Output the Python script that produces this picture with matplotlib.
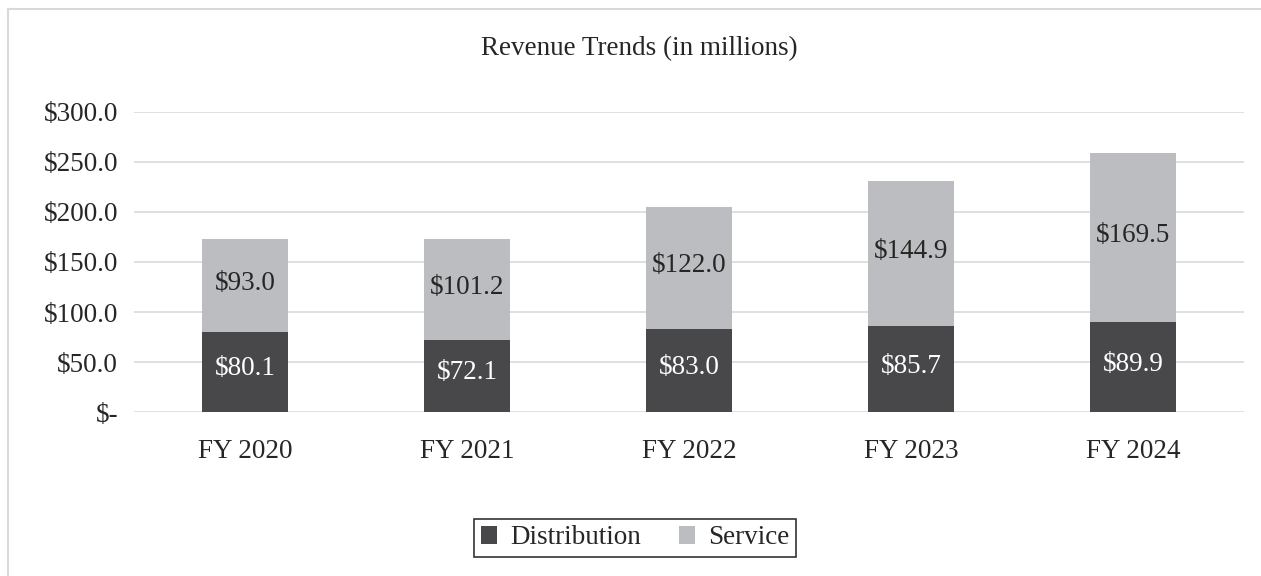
import matplotlib.pyplot as plt
from matplotlib.lines import Line2D
import numpy as np

plt.rcParams['font.family'] = ['Liberation Serif', 'DejaVu Serif']

# data (in millions)
years = ['FY 2020', 'FY 2021', 'FY 2022', 'FY 2023', 'FY 2024']
distribution = [80.1, 72.1, 83.0, 85.7, 89.9]
service = [93.0, 101.2, 122.0, 144.9, 169.5]
yticks = [0, 50, 100, 150, 200, 250, 300]

dark = '#48484a'
light = '#bcbdc1'
txt = '#262626'
fs = 19.5

fig = plt.figure(figsize=(12.61, 5.76), dpi=100)
ax = fig.add_axes([0.1063, 0.2847, 0.8802, 0.5209])

x = np.arange(len(years))
w = 0.39
b1 = ax.bar(x, distribution, w, color=dark, label='Distribution', zorder=2)
b2 = ax.bar(x, service, w, bottom=distribution, color=light, label='Service', zorder=2)

# value labels inside the segments
for i in range(len(years)):
    ax.text(x[i], distribution[i] / 2 + 3, '$%.1f' % distribution[i], ha='center', va='center',
            color='white', fontsize=fs)
    ax.text(x[i], distribution[i] + service[i] / 2 + 2, '$%.1f' % service[i], ha='center',
            va='center', color=txt, fontsize=fs)

ax.set_xlim(-0.5, len(years) - 0.5)
ax.set_ylim(0, 300)
ax.set_yticks(yticks)
ax.set_yticklabels(['$-' if v == 0 else '$%.1f' % v for v in yticks])
ax.set_xticks(x)
ax.set_xticklabels(years)
ax.tick_params(length=0, labelsize=fs, colors=txt)
ax.tick_params(axis='x', pad=19.5)
ax.tick_params(axis='y', pad=11.5)
ax.yaxis.grid(True, color='#d9d9d9', linewidth=1.2, zorder=0)
for s in ax.spines.values():
    s.set_visible(False)

fig.text(0.507, 0.915, 'Revenue Trends (in millions)', ha='center', va='center',
         fontsize=fs, color=txt)

leg = fig.legend(handles=[b1, b2], loc='center', bbox_to_anchor=(0.5036, 0.066), ncol=2,
                 frameon=True, fancybox=False, fontsize=fs, handlelength=0.6,
                 handleheight=0.6, columnspacing=1.4, handletextpad=0.48,
                 borderpad=0.25, borderaxespad=0)
leg.get_frame().set_edgecolor('black')
leg.get_frame().set_linewidth(1.2)
for t in leg.get_texts():
    t.set_color(txt)

# outer chart border (top and left only visible)
left = 7.5 / 1261
top = 1 - 8.5 / 576
fig.add_artist(Line2D([left, 1], [top, top], transform=fig.transFigure,
                      color='#d9d9d9', linewidth=1.5))
fig.add_artist(Line2D([left, left], [0, top], transform=fig.transFigure,
                      color='#d9d9d9', linewidth=1.5))

fig.savefig('out.png', dpi=100)
